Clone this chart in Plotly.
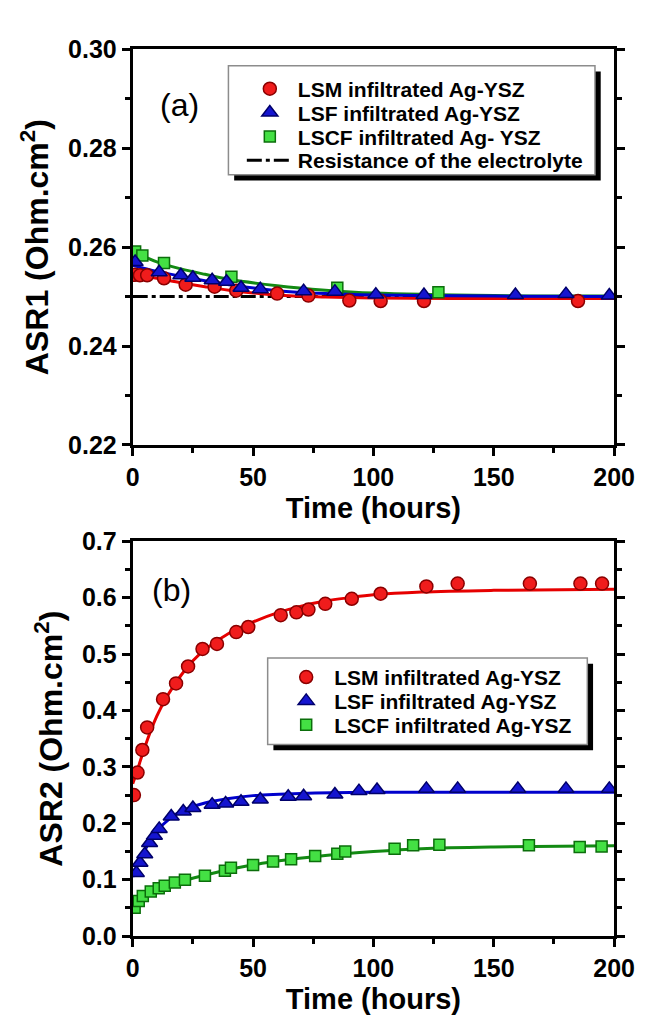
import plotly.graph_objects as go

W, H = 652, 1015

# ---------------- Panel (a): ASR1 ----------------
t_lsm_a = [1, 3, 6, 13, 22, 34, 43, 60, 73, 90, 103, 121, 185]
v_lsm_a = [0.2544, 0.2543, 0.2543, 0.2537, 0.2524, 0.2520, 0.2512, 0.2506, 0.2502, 0.2492, 0.2491, 0.2491, 0.2491]
t_lsf_a = [1, 11, 20, 25, 33, 39, 45, 53, 71, 84, 101, 121, 159, 180, 198]
v_lsf_a = [0.2570, 0.2549, 0.2543, 0.2538, 0.2533, 0.2530, 0.2518, 0.2515, 0.2511, 0.2510, 0.2504, 0.2503, 0.2503, 0.2505, 0.2502]
t_lscf_a = [1, 4, 13, 41, 85, 127]
v_lscf_a = [0.2591, 0.2583, 0.2568, 0.2540, 0.2518, 0.2509]

t_fit_a = [0, 10, 20, 30, 40, 60, 80, 100, 150, 200]
fit_lsm_a = [0.2545, 0.2537, 0.2528, 0.2520, 0.2513, 0.2503, 0.2499, 0.2497, 0.2496, 0.2496]
fit_lsf_a = [0.2563, 0.2551, 0.2541, 0.2532, 0.2524, 0.2512, 0.2506, 0.2503, 0.2501, 0.2500]
fit_lscf_a = [0.2592, 0.2570, 0.2556, 0.2545, 0.2535, 0.2522, 0.2513, 0.2507, 0.2502, 0.2501]

electrolyte_t = [0, 200]
electrolyte_r = [0.25, 0.25]

# ---------------- Panel (b): ASR2 ----------------
t_lsm_b = [0.5, 2, 4, 6, 12.6, 18, 23, 29, 35, 43, 48, 61.5, 68, 73, 80, 91, 103, 122, 135, 165, 186, 195]
v_lsm_b = [0.25, 0.29, 0.33, 0.37, 0.42, 0.448, 0.478, 0.509, 0.518, 0.539, 0.548, 0.569, 0.574, 0.579,
           0.589, 0.598, 0.607, 0.620, 0.625, 0.625, 0.625, 0.625]
t_lsf_b = [1.5, 3, 5, 7, 9, 11, 16, 21, 25, 33, 38.6, 45, 53, 64.6, 71, 84, 94, 101.5, 122, 135, 160, 180, 198]
v_lsf_b = [0.112, 0.13, 0.145, 0.165, 0.178, 0.19, 0.212, 0.221, 0.227, 0.233, 0.235, 0.238, 0.242, 0.247,
           0.248, 0.251, 0.257, 0.259, 0.261, 0.261, 0.261, 0.261, 0.261]
t_lscf_b = [0.8, 2.5, 4.2, 7.5, 10.8, 13.3, 17.5, 21.7, 30, 38.3, 40.8, 50, 58.3, 65.8, 75.8, 85, 88.3,
            108.8, 116.5, 127.4, 164.6, 185.7, 194.8]
v_lscf_b = [0.05, 0.062, 0.071, 0.079, 0.085, 0.089, 0.095, 0.1, 0.107, 0.116, 0.121, 0.126, 0.132, 0.136,
            0.142, 0.146, 0.150, 0.155, 0.161, 0.162, 0.161, 0.158, 0.159]

t_fit_lsm_b = [0, 2, 5, 10, 15, 20, 25, 30, 40, 50, 60, 70, 80, 90, 100, 120, 150, 200]
fit_lsm_b = [0.27, 0.295, 0.335, 0.39, 0.43, 0.462, 0.488, 0.508, 0.537, 0.557, 0.573, 0.585, 0.594, 0.600,
             0.605, 0.610, 0.613, 0.615]
t_fit_lsf_b = [0, 2, 5, 10, 15, 20, 30, 40, 50, 70, 100, 150, 200]
fit_lsf_b = [0.105, 0.125, 0.152, 0.186, 0.207, 0.221, 0.236, 0.244, 0.249, 0.253, 0.255, 0.255, 0.255]
t_fit_lscf_b = [0, 2, 5, 10, 20, 30, 40, 50, 60, 80, 100, 120, 150, 200]
fit_lscf_b = [0.05, 0.062, 0.072, 0.083, 0.097, 0.108, 0.118, 0.126, 0.133, 0.143, 0.150, 0.155, 0.158, 0.160]

names_a = ["LSM infiltrated Ag-YSZ", "LSF infiltrated Ag-YSZ", "LSCF infiltrated Ag- YSZ",
           "Resistance of the electrolyte"]
names_b = ["LSM infiltrated Ag-YSZ", "LSF infiltrated Ag-YSZ", "LSCF infiltrated Ag-YSZ"]

# ---------------- styles ----------------
FONT = "Liberation Sans, Arial, sans-serif"
RED_F, RED_L, RED_C = "#f01c1c", "#8a0000", "#e60000"
BLU_F, BLU_L, BLU_C = "#1515d0", "#00006a", "#0000cc"
GRN_F, GRN_L, GRN_C = "#44e044", "#0b6e0b", "#138a13"

mk_circle = dict(symbol="circle", size=13, color=RED_F, line=dict(color=RED_L, width=1.5))
mk_tri = dict(symbol="triangle-up", size=14, color=BLU_F, line=dict(color=BLU_L, width=1.5))
mk_sq = dict(symbol="square", size=11, color=GRN_F, line=dict(color=GRN_L, width=1.5))


def px_x(p):
    return p / W


def px_y(p):
    return 1 - p / H


fig = go.Figure()

# panel (a)
fig.add_trace(go.Scatter(x=electrolyte_t, y=electrolyte_r, mode="lines", name=names_a[3],
                         line=dict(color="black", width=3, dash="15px,4px,4px,4px"), legend="legend4",
                         xaxis="x", yaxis="y"))
fig.add_trace(go.Scatter(x=t_fit_a, y=fit_lscf_a, mode="lines", showlegend=False,
                         line=dict(color=GRN_C, width=3, shape="spline"), xaxis="x", yaxis="y"))
fig.add_trace(go.Scatter(x=t_fit_a, y=fit_lsm_a, mode="lines", showlegend=False,
                         line=dict(color=RED_C, width=3, shape="spline"), xaxis="x", yaxis="y"))
fig.add_trace(go.Scatter(x=t_fit_a, y=fit_lsf_a, mode="lines", showlegend=False,
                         line=dict(color=BLU_C, width=3, shape="spline"), xaxis="x", yaxis="y"))
fig.add_trace(go.Scatter(x=t_lscf_a, y=v_lscf_a, mode="markers", name=names_a[2], marker=mk_sq,
                         legend="legend3", xaxis="x", yaxis="y"))
fig.add_trace(go.Scatter(x=t_lsm_a, y=v_lsm_a, mode="markers", name=names_a[0], marker=mk_circle,
                         legend="legend", xaxis="x", yaxis="y"))
fig.add_trace(go.Scatter(x=t_lsf_a, y=v_lsf_a, mode="markers", name=names_a[1], marker=mk_tri,
                         legend="legend2", xaxis="x", yaxis="y"))

# panel (b)
fig.add_trace(go.Scatter(x=t_fit_lsm_b, y=fit_lsm_b, mode="lines", showlegend=False,
                         line=dict(color=RED_C, width=3, shape="spline"), xaxis="x2", yaxis="y2"))
fig.add_trace(go.Scatter(x=t_fit_lsf_b, y=fit_lsf_b, mode="lines", showlegend=False,
                         line=dict(color=BLU_C, width=3, shape="spline"), xaxis="x2", yaxis="y2"))
fig.add_trace(go.Scatter(x=t_fit_lscf_b, y=fit_lscf_b, mode="lines", showlegend=False,
                         line=dict(color=GRN_C, width=3, shape="spline"), xaxis="x2", yaxis="y2"))
fig.add_trace(go.Scatter(x=t_lsm_b, y=v_lsm_b, mode="markers", name=names_b[0], marker=mk_circle,
                         legend="legend5", xaxis="x2", yaxis="y2"))
fig.add_trace(go.Scatter(x=t_lsf_b, y=v_lsf_b, mode="markers", name=names_b[1], marker=mk_tri,
                         legend="legend6", xaxis="x2", yaxis="y2"))
fig.add_trace(go.Scatter(x=t_lscf_b, y=v_lscf_b, mode="markers", name=names_b[2], marker=mk_sq,
                         legend="legend7", xaxis="x2", yaxis="y2"))

tickfont = dict(family=FONT, size=25, color="black", weight="bold")
titlefont = dict(family=FONT, size=29, color="black", weight="bold")
ytitlefont = dict(family=FONT, size=32, color="black", weight="bold")

XDOM = [px_x(123), px_x(626)]
common_x = dict(range=[0, 200], tickvals=[0, 50, 100, 150, 200], showline=True, linecolor="black",
                linewidth=3, mirror=True, ticks="outside", ticklen=8, tickwidth=3, tickcolor="black",
                tickfont=tickfont, showgrid=False, zeroline=False, domain=XDOM,
                minor=dict(ticks="outside", ticklen=5, tickwidth=3, tickcolor="black", dtick=25,
                           showgrid=False))
common_y = dict(showline=True, linecolor="black", linewidth=3, mirror="allticks", ticks="outside",
                ticklen=8, tickwidth=3, tickcolor="black", tickfont=tickfont, showgrid=False,
                zeroline=False)

fig.update_layout(
    width=W, height=H, margin=dict(l=0, r=0, t=0, b=0),
    paper_bgcolor="white", plot_bgcolor="white",
    xaxis=dict(common_x, anchor="y",
               title=dict(text="Time (hours)", font=titlefont, standoff=8)),
    yaxis=dict(common_y, anchor="x", domain=[px_y(435), px_y(28)], range=[0.22, 0.30],
               tickvals=[0.22, 0.24, 0.26, 0.28, 0.30], tickformat=".2f",
               minor=dict(ticks="outside", ticklen=5, tickwidth=3, tickcolor="black", dtick=0.01,
                          showgrid=False),
               title=dict(text="ASR1 (Ohm.cm<sup>2</sup>)", font=ytitlefont, standoff=10)),
    xaxis2=dict(common_x, anchor="y2",
                title=dict(text="Time (hours)", font=titlefont, standoff=8)),
    yaxis2=dict(common_y, anchor="x2", domain=[px_y(940), px_y(534)], range=[0, 0.7],
                tickvals=[0, 0.1, 0.2, 0.3, 0.4, 0.5, 0.6, 0.7], tickformat=".1f",
                minor=dict(ticks="outside", ticklen=5, tickwidth=3, tickcolor="black", dtick=0.05,
                           showgrid=False),
                title=dict(text="ASR2 (Ohm.cm<sup>2</sup>)", font=ytitlefont, standoff=10)),
    showlegend=True,
)

legfont = dict(family=FONT, size=21, color="black", weight="bold")


def leg(xp, yp):
    return dict(x=px_x(xp), y=px_y(yp), xanchor="left", yanchor="middle", bgcolor="rgba(0,0,0,0)",
                borderwidth=0, font=legfont, itemwidth=46, xref="paper", yref="paper")


fig.update_layout(
    legend=leg(237, 69), legend2=leg(237, 93.5), legend3=leg(237, 118), legend4=leg(237, 142.5),
    legend5=leg(275, 674), legend6=leg(275, 698.5), legend7=leg(275, 723),
)

shapes = []
for (x0, y0, x1, y1) in [(223, 45, 606, 157), (264, 654, 598, 743)]:
    shapes.append(dict(type="rect", xref="paper", yref="paper", x0=px_x(x0 + 6), x1=px_x(x1 + 6),
                       y0=px_y(y1 + 6), y1=px_y(y0 + 6), fillcolor="black", line=dict(width=0),
                       layer="above"))
    shapes.append(dict(type="rect", xref="paper", yref="paper", x0=px_x(x0), x1=px_x(x1),
                       y0=px_y(y1), y1=px_y(y0), fillcolor="white",
                       line=dict(color="#8c8c8c", width=1.5), layer="above"))
fig.update_layout(shapes=shapes)

fig.add_annotation(x=19.5, y=0.2888, xref="x", yref="y", text="(a)", showarrow=False,
                   font=dict(family=FONT, size=32, color="black"))
fig.add_annotation(x=16.3, y=0.614, xref="x2", yref="y2", text="(b)", showarrow=False,
                   font=dict(family=FONT, size=32, color="black"))

fig.write_html("out.html")
